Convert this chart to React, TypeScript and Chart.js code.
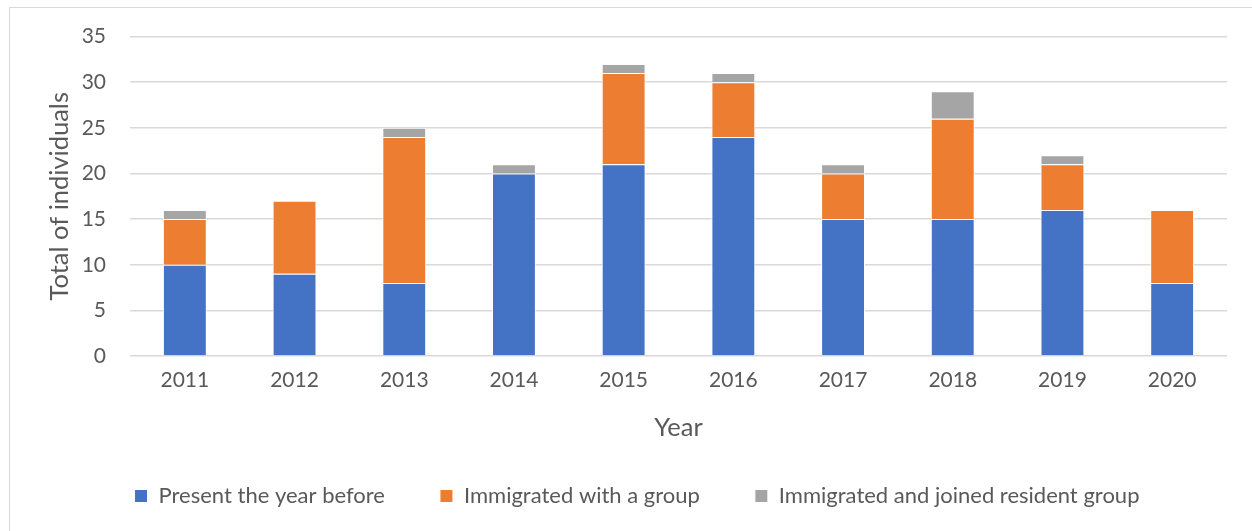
import React, { useEffect, useRef } from "react";
import { Chart, registerables } from "chart.js";

Chart.register(...registerables);

const years = ["2011", "2012", "2013", "2014", "2015", "2016", "2017", "2018", "2019", "2020"];
const presentBefore = [10, 9, 8, 20, 21, 24, 15, 15, 16, 8];
const immigratedGroup = [5, 8, 16, 0, 10, 6, 5, 11, 5, 8];
const joinedResident = [1, 0, 1, 1, 1, 1, 1, 3, 1, 0];
const yTicks = [0, 5, 10, 15, 20, 25, 30, 35];

const FONT = "Lato, 'Open Sans', sans-serif";
const TEXT = "#595959";

export default function App() {
  const ref = useRef<HTMLCanvasElement | null>(null);

  useEffect(() => {
    if (!ref.current) return;
    const chart = new Chart(ref.current, {
      type: "bar",
      data: {
        labels: years,
        datasets: [
          { label: "Present the year before", data: presentBefore, backgroundColor: "#4472C4", borderColor: "#ffffff", borderWidth: 1 },
          { label: "Immigrated with a group", data: immigratedGroup, backgroundColor: "#ED7D31", borderColor: "#ffffff", borderWidth: 1 },
          { label: "Immigrated and joined resident group", data: joinedResident, backgroundColor: "#A5A5A5", borderColor: "#ffffff", borderWidth: 1 },
        ],
      },
      options: {
        animation: false,
        responsive: false,
        maintainAspectRatio: false,
        layout: { padding: { left: 47, right: 25, top: 35, bottom: 14 } },
        datasets: { bar: { categoryPercentage: 1, barPercentage: 0.4 } },
        plugins: {
          tooltip: { enabled: false },
          legend: {
            position: "bottom",
            labels: {
              boxWidth: 13,
              boxHeight: 13,
              padding: 55,
              color: TEXT,
              font: { family: FONT, size: 22 },
            },
          },
        },
        scales: {
          x: {
            stacked: true,
            grid: { display: false, drawTicks: false },
            border: { display: false },
            ticks: { color: TEXT, font: { family: FONT, size: 21 }, padding: 12 },
            title: { display: true, text: "Year", color: TEXT, font: { family: FONT, size: 25.5 }, padding: { top: 0, bottom: -13.3 } },
            afterFit: (s: any) => { s.height = 74; },
          },
          y: {
            stacked: true,
            min: 0,
            max: 35,
            afterBuildTicks: (s: any) => { s.ticks = yTicks.map((v) => ({ value: v })); },
            grid: { color: "#d9d9d9", lineWidth: 1.5, drawTicks: false },
            border: { display: false },
            ticks: { color: TEXT, font: { family: FONT, size: 21 }, padding: 24 },
            title: { display: true, text: "Total of individuals", color: TEXT, font: { family: FONT, size: 25.5 }, padding: { top: -2.3, bottom: 0 } },
            afterFit: (s: any) => { s.width = 83; },
          },
        },
      },
    });
    return () => chart.destroy();
  }, []);

  return (
    <div style={{ position: "absolute", left: 0, top: 0, width: 1252, height: 531, overflow: "hidden", background: "#fff" }}>
      <div style={{ position: "absolute", left: 9, top: 7, width: 1260, height: 540, border: "1px solid #d9d9d9", boxSizing: "border-box" }} />
      <canvas ref={ref} width={1252} height={531} style={{ position: "absolute", left: 0, top: 0, display: "block" }} />
    </div>
  );
}
